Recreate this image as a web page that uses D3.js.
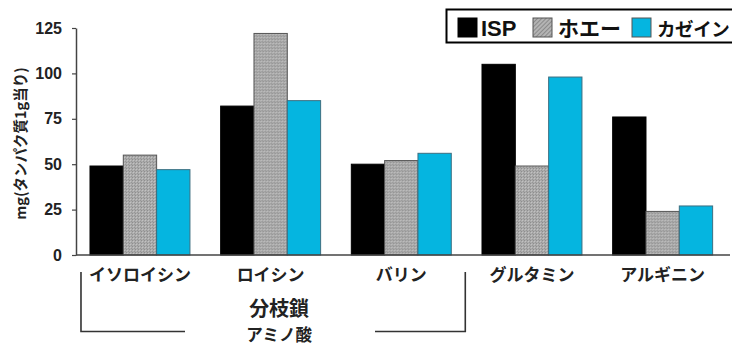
<!DOCTYPE html>
<html>
<head>
<meta charset="utf-8">
<script src="https://cdn.jsdelivr.net/npm/d3@7"></script>
<style>
  html, body { margin: 0; padding: 0; background: #fff; }
  svg { display: block; }
</style>
</head>
<body>
<svg id="chart" width="732" height="346"></svg>
<script>
// Amino acid content per gram of protein (mg)
const categories = ["イソロイシン", "ロイシン", "バリン", "グルタミン", "アルギニン"];
const seriesNames = ["ISP", "ホエー", "カゼイン"];
const ispValues    = [49, 82, 50, 105, 76];
const wheyValues   = [55, 122, 52, 49, 24];
const caseinValues = [47, 85, 56, 98, 27];
const yTicks = [0, 25, 50, 75, 100, 125];
const yTitle = "mg(タンパク質1g当り)";
const bracketLines = ["分枝鎖", "アミノ酸"];

const seriesValues = [ispValues, wheyValues, caseinValues];
const jpFont = "'Noto Sans CJK JP', 'Noto Sans', sans-serif";
const latinFont = "'Liberation Sans', Arial, sans-serif";

const svg = d3.select("#chart");

// textured gray fill for the whey series
const defs = svg.append("defs");
const pat = defs.append("pattern")
  .attr("id", "wheyFill").attr("patternUnits", "userSpaceOnUse")
  .attr("width", 3).attr("height", 3);
pat.append("rect").attr("width", 3).attr("height", 3).attr("fill", "#ababab");
pat.append("rect").attr("x", 0).attr("y", 0).attr("width", 1).attr("height", 1).attr("fill", "#8e8e8e");
pat.append("rect").attr("x", 1).attr("y", 1).attr("width", 1).attr("height", 1).attr("fill", "#c2c2c2");
pat.append("rect").attr("x", 2).attr("y", 2).attr("width", 1).attr("height", 1).attr("fill", "#969696");

const legPat = defs.append("pattern")
  .attr("id", "wheyLegend").attr("patternUnits", "userSpaceOnUse")
  .attr("width", 3).attr("height", 3).attr("patternTransform", "rotate(45)");
legPat.append("rect").attr("width", 3).attr("height", 3).attr("fill", "#b4b4b4");
legPat.append("rect").attr("width", 1).attr("height", 3).attr("fill", "#8a8a8a");

const fills = ["#000000", "url(#wheyFill)", "#05b5e0"];
const legendFills = ["#000000", "url(#wheyLegend)", "#05b5e0"];

const axisX = 76, x0Start = 76, x0End = 730;
const yTop = 28, yBottom = 255;

const x0 = d3.scaleBand()
  .domain(categories)
  .range([x0Start, x0End])
  .paddingInner(0.235)
  .paddingOuter(0.12)
  .align(0.446);

const x1 = d3.scaleBand()
  .domain(seriesNames)
  .range([0, x0.bandwidth()])
  .padding(0);

const y = d3.scaleLinear().domain([0, 125]).range([yBottom, yTop]);

// bars
const groups = svg.append("g").selectAll("g")
  .data(categories)
  .join("g")
  .attr("transform", d => `translate(${x0(d)},0)`);

groups.selectAll("rect")
  .data((c, ci) => seriesNames.map((s, si) => ({ s, si, v: seriesValues[si][ci] })))
  .join("rect")
  .attr("x", d => x1(d.s))
  .attr("y", d => y(d.v))
  .attr("width", x1.bandwidth())
  .attr("height", d => y(0) - y(d.v))
  .attr("fill", d => fills[d.si])
  .attr("stroke", d => d.si === 0 ? "#000" : (d.si === 1 ? "#555" : "#3d6f80"))
  .attr("stroke-width", 1);

// y axis
const yAxis = svg.append("g")
  .attr("transform", `translate(${axisX},0)`)
  .call(d3.axisLeft(y).tickValues(yTicks).tickSize(4).tickPadding(10).tickSizeOuter(0));
yAxis.select(".domain").attr("stroke", "#444").attr("stroke-width", 1.5);
yAxis.selectAll(".tick line").attr("stroke", "#444").attr("stroke-width", 1.2);
yAxis.selectAll(".tick text")
  .attr("font-family", latinFont)
  .attr("font-weight", "bold")
  .attr("font-size", 16)
  .attr("fill", "#222");

// x baseline
svg.append("line")
  .attr("x1", axisX).attr("x2", x0End)
  .attr("y1", y(0)).attr("y2", y(0))
  .attr("stroke", "#444").attr("stroke-width", 1.5);

// category labels
svg.append("g").selectAll("text")
  .data(categories)
  .join("text")
  .attr("x", d => x0(d) + x0.bandwidth() / 2)
  .attr("y", 281)
  .attr("text-anchor", "middle")
  .attr("font-family", jpFont)
  .attr("font-weight", "bold")
  .attr("font-size", 17)
  .attr("fill", "#222")
  .text(d => d);

// y axis title
svg.append("text")
  .attr("transform", `translate(26,${(yTop + yBottom) / 2 + 2}) rotate(-90)`)
  .attr("text-anchor", "middle")
  .attr("font-family", jpFont)
  .attr("font-weight", "bold")
  .attr("font-size", 14.5)
  .attr("fill", "#222")
  .text(yTitle);

// bracket grouping the branched-chain amino acids
const bcLeft = x0(categories[0]) - 9;
const bcRight = x0(categories[2]) + x0.bandwidth() + 14;
const bracket = svg.append("g")
  .attr("fill", "none").attr("stroke", "#333").attr("stroke-width", 1.6);
bracket.append("path").attr("d", `M${bcLeft},272 V331.5 H185`);
bracket.append("path").attr("d", `M375,331.5 H${bcRight} V272`);

const bcCenter = (bcLeft + bcRight) / 2;
const bracketSizes = [20, 16.5];
const bracketBaselines = [316, 341];
svg.append("g").selectAll("text")
  .data(bracketLines)
  .join("text")
  .attr("x", bcCenter + 6)
  .attr("y", (d, i) => bracketBaselines[i])
  .attr("text-anchor", "middle")
  .attr("font-family", jpFont)
  .attr("font-weight", "bold")
  .attr("font-size", (d, i) => bracketSizes[i])
  .attr("fill", "#222")
  .text(d => d);

// legend
const legend = svg.append("g");
legend.append("rect")
  .attr("x", 446.5).attr("y", 9.5)
  .attr("width", 300).attr("height", 33)
  .attr("fill", "#fff").attr("stroke", "#000").attr("stroke-width", 2);

const legendX = [458, 533, 632];
const legendSizes = [22, 21, 18.5];
const legendItems = legend.selectAll("g.item")
  .data(seriesNames)
  .join("g").attr("class", "item")
  .attr("transform", (d, i) => `translate(${legendX[i]},18)`);
legendItems.append("rect")
  .attr("width", 19).attr("height", 19)
  .attr("fill", (d, i) => legendFills[i])
  .attr("stroke", (d, i) => i === 0 ? "#000" : "#555")
  .attr("stroke-width", 1);
legendItems.append("text")
  .attr("x", (d, i) => i === 0 ? 23 : 25)
  .attr("y", 18)
  .attr("font-family", (d, i) => i === 0 ? latinFont : jpFont)
  .attr("font-weight", "bold")
  .attr("font-size", (d, i) => legendSizes[i])
  .attr("letter-spacing", (d, i) => i === 2 ? -0.4 : 0)
  .attr("fill", "#111")
  .text(d => d);
</script>
</body>
</html>
